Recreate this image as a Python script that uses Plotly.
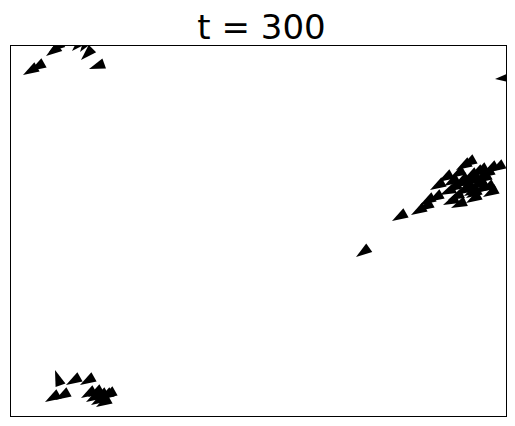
import plotly.graph_objects as go

# boid positions (simulation units, arrow tip) and headings (degrees, clockwise from up)
top_left_x = [12, 19, 35, 38, 61, 69, 70, 78]
top_left_y = [341, 345, 360, 364, 365, 364, 356, 347]
top_left_a = [240, 240, 235, 235, 225, 215, 225, 250]

edge_x = [484]
edge_y = [337]
edge_a = [265]

right_x = [345, 381, 400, 407, 409, 417, 419, 427, 432, 440, 445, 450, 439, 449, 459, 462, 472, 469, 472,
           455, 445, 435, 429, 452, 442, 465, 479, 448, 455, 463, 437, 458, 451, 468, 433,
           448, 455, 461, 443, 453, 463]
right_y = [159, 195, 201, 205, 211, 214, 226, 234, 211, 208, 246, 249, 238, 231, 228, 241, 243, 224, 219,
           218, 221, 224, 221, 236, 228, 233, 244, 224, 213, 223, 216, 239, 230, 238, 230,
           225, 231, 227, 231, 220, 235]
right_a = [235, 240, 240, 240, 240, 240, 240, 240, 245, 245, 240, 240, 240, 240, 240, 240, 240, 240, 240,
           240, 240, 240, 245, 240, 240, 240, 240, 240, 240, 240, 245, 240, 240, 240, 240,
           240, 240, 240, 240, 240, 240]

bottom_x = [44, 55, 69, 34, 44, 70, 77, 82, 87, 80, 85, 75, 90]
bottom_y = [46, 31, 31, 14, 16, 18, 19, 16, 16, 11, 9, 14, 17]
bottom_a = [340, 240, 240, 240, 240, 240, 240, 240, 240, 240, 240, 240, 240]

xs = top_left_x + edge_x + right_x + bottom_x
ys = top_left_y + edge_y + right_y + bottom_y
angs = top_left_a + edge_a + right_a + bottom_a

fig = go.Figure(go.Scatter(
    x=xs, y=ys, mode="markers",
    marker=dict(symbol="arrow", size=17, color="black", angle=angs,
                line=dict(width=0)),
    hoverinfo="skip", showlegend=False,
))

fig.update_layout(
    width=507, height=418,
    margin=dict(l=3, r=9, t=38, b=10),
    paper_bgcolor="white", plot_bgcolor="white",
    title=dict(text="t = 300", x=0.5, xanchor="center", y=0.982, yanchor="top",
               font=dict(family="DejaVu Sans", size=34, color="black")),
    xaxis=dict(range=[0, 495], showticklabels=False, ticks="", showgrid=False,
               zeroline=False, showline=True, linecolor="black", linewidth=1, mirror=True),
    yaxis=dict(range=[0, 370], showticklabels=False, ticks="", showgrid=False,
               zeroline=False, showline=True, linecolor="black", linewidth=1, mirror=True),
)

fig.write_html("out.html")
